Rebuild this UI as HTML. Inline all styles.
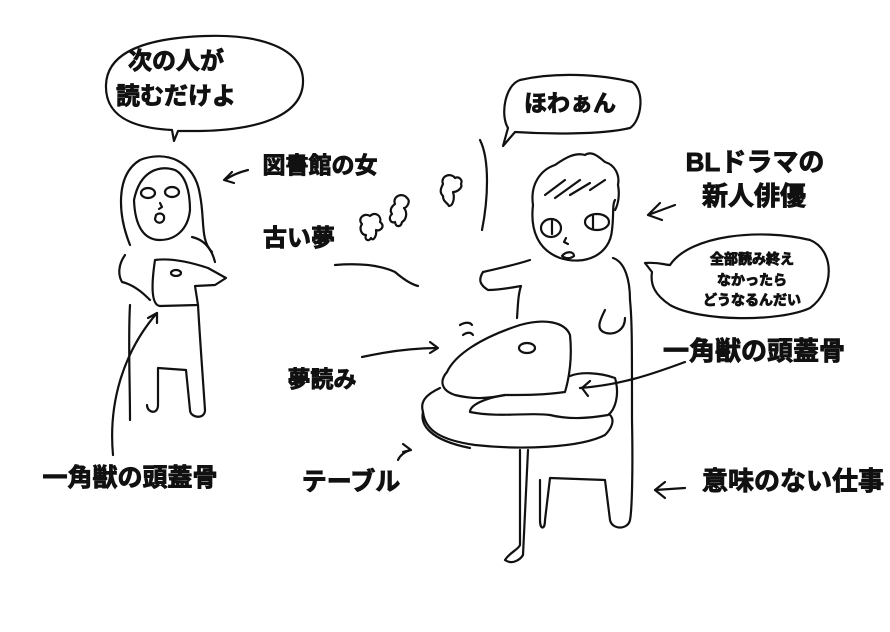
<!DOCTYPE html>
<html><head><meta charset="utf-8"><style>
html,body{margin:0;padding:0;background:#fff;}
svg{display:block;}
text{font-family:"Liberation Sans","Noto Sans CJK JP",sans-serif;font-weight:bold;fill:#111;stroke:#111;stroke-width:0.9;}
</style></head><body>
<svg width="890" height="632" viewBox="0 0 890 632" xmlns="http://www.w3.org/2000/svg">
<g fill="none" stroke="#111" stroke-width="2.2" stroke-linecap="round" stroke-linejoin="round">
<path d="M172,130 C130,128 105,115 106,85 C107,50 150,38 205,36 C260,34 302,48 303,80 C304,115 260,130 200,131 L178,131 L174,141 Z"/>
<path d="M130,245 C118,215 115,175 140,160 C165,150 195,160 200,195 C205,220 200,240 212,252"/>
<path d="M134,200 C140,170 160,165 175,170 C185,175 190,190 190,210 C188,230 175,240 160,240 C145,240 135,228 134,200"/>
<ellipse cx="148" cy="193" rx="7" ry="5"/><ellipse cx="172" cy="192" rx="7" ry="5"/>
<path d="M160,203 l2,4 l-3,2"/><path d="M156,215 c4,-3 9,-1 8,4 c-1,5 -8,5 -9,0 z"/>
<path d="M125,255 C118,265 118,275 122,282 C135,285 145,295 150,300"/>
<path d="M192,237 C205,240 212,250 215,262"/>
<path d="M155,260 C170,258 190,262 208,268 L226,278 L215,285 L195,286 L198,305 L160,306 C150,305 152,280 155,260 Z"/>
<ellipse cx="176" cy="273" rx="5" ry="3"/>
<path d="M130,305 C128,340 130,380 130,420"/>
<path d="M198,305 C200,340 203,380 205,410 C205,420 190,418 190,410 L186,370 L158,368 L158,405 C158,415 147,413 147,405"/>
<path d="M113,455 C108,400 125,350 157,313"/><path d="M148,318 l9,-5 l0,10"/>
<path d="M248,170 C240,172 232,175 225,180"/><path d="M232,172 l-8,8 l10,3"/>
<path d="M362,224 c-5,-5 2,-12 8,-8 c5,-5 12,0 10,6 c6,4 0,10 -4,8 c1,6 -3,12 -5,8 c-2,4 -7,2 -5,-3 c-5,0 -7,-7 -4,-11 z"/>
<path d="M395,204 c-3,-8 8,-12 12,-6 c4,3 0,10 -3,10 c4,5 2,12 -2,14 c-1,5 -6,6 -7,0 c-5,2 -7,-5 -3,-8 c-3,-4 0,-8 3,-10 z"/>
<path d="M443,184 c-3,-8 8,-12 12,-6 c4,-2 8,2 6,6 c2,4 -4,8 -8,8 c2,6 0,14 -4,14 c-2,-4 -6,-4 -6,-10 c-4,-4 -2,-8 0,-12 z"/>
<path d="M335,265 C360,263 380,265 395,272 C402,278 410,284 418,286"/>
<path d="M480,140 C490,160 488,200 482,230"/>
<path d="M503,146 L508,128 C500,115 505,85 520,80 C555,72 600,74 632,82 C645,90 642,120 630,128 C600,135 545,134 515,132 Z"/>
<path d="M533,205 C530,185 540,170 555,165 C565,158 575,152 585,155 C592,150 600,158 605,162 C615,165 620,175 618,185 C620,195 618,205 615,210"/>
<path d="M545,195 l20,-15 M555,198 l25,-18 M570,195 l20,-12 M590,190 l15,-10"/>
<path d="M533,205 C530,230 538,250 560,258 C585,266 610,255 612,230 C614,215 612,205 615,200"/>
<ellipse cx="551" cy="228" rx="10" ry="9"/><ellipse cx="597" cy="222" rx="12" ry="8"/>
<path d="M552,221 v13 M593,216 v12"/>
<path d="M566,238 l-2,4 l4,2"/><path d="M562,256 c4,-5 12,-5 12,0 c-4,3 -8,3 -12,0 z"/>
<path d="M530,260 C515,265 500,268 483,272 C478,280 480,285 488,290 C498,290 510,288 521,286 C518,295 518,305 517,318"/>
<path d="M613,258 C625,262 630,280 630,300 C632,320 632,340 632,420 C633,470 632,510 630,520 C628,530 612,530 610,520 L605,480 L550,478 L545,520 C545,530 540,530 540,520 L540,480"/>
<path d="M605,310 C600,320 595,330 606,333 C615,335 625,330 625,318"/>
<path d="M447,372 C455,355 480,338 520,325 C545,318 565,322 570,335 C572,355 570,375 565,392 C545,395 525,395 505,395 C490,398 475,400 455,395 C440,390 440,380 447,372 Z"/>
<ellipse cx="527" cy="348" rx="8" ry="5"/>
<path d="M570,376 C580,372 598,372 615,378 C620,395 615,410 608,415 C590,418 570,420 550,415 C530,412 500,418 470,412 C470,405 485,398 505,395"/>
<path d="M440,388 C425,395 420,402 423,412 C425,430 440,440 475,445 C520,450 580,448 605,435 C612,428 615,420 610,415"/>
<path d="M423,412 C420,425 430,440 470,448"/>
<path d="M520,450 L520,545 C518,550 510,552 505,560 C512,565 520,560 523,555 L528,450"/>
<path d="M460,325 c5,-3 10,-3 12,0 M463,335 c4,-3 8,-3 10,0"/>
<path d="M645,263 C660,262 665,265 670,265 C690,235 760,228 810,240 C835,250 835,290 810,308 C780,322 700,322 670,305 C655,295 650,285 652,272 Z"/>
<path d="M675,205 L648,215"/><path d="M660,203 l-12,12 l14,5"/>
<path d="M685,362 C650,375 620,385 580,388"/><path d="M590,381 l-8,7 l6,8"/>
<path d="M685,488 L655,490"/><path d="M665,482 l-10,8 l10,8"/>
<path d="M362,357 C385,352 410,348 437,348"/><path d="M430,342 l8,6 l-8,5"/>
<path d="M410,450 C405,452 400,455 398,460"/><path d="M403,444 l8,6 l-8,2"/>
</g>
<g text-anchor="middle">
<text x="176" y="69" font-size="24">次の人が</text>
<text x="176" y="104" font-size="24">読むだけよ</text>
<text x="320" y="173" font-size="23">図書館の女</text>
<text x="299" y="246" font-size="24">古い夢</text>
<text x="322" y="387" font-size="23">夢読み</text>
<text x="130" y="486" font-size="25">一角獣の頭蓋骨</text>
<text x="351" y="490" font-size="25">テーブル</text>
<text x="570" y="111" font-size="23">ほわぁん</text>
<text x="755" y="171" font-size="26">BLドラマの</text>
<text x="754" y="205" font-size="26">新人俳優</text>
<text x="752" y="264" font-size="14">全部読み終え</text>
<text x="752" y="285" font-size="14">なかったら</text>
<text x="752" y="305" font-size="14">どうなるんだい</text>
<text x="754" y="360" font-size="26">一角獣の頭蓋骨</text>
<text x="793" y="490" font-size="26">意味のない仕事</text>
</g>
</svg>
</body></html>
